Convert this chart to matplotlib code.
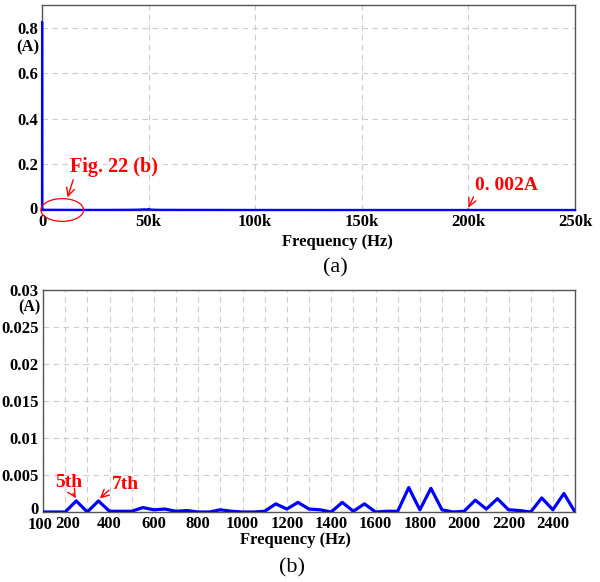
import matplotlib
matplotlib.use('Agg')
import matplotlib.pyplot as plt
import matplotlib.transforms as mtransforms
from matplotlib.patches import Ellipse
from matplotlib.ticker import MultipleLocator

plt.rcParams['font.family'] = ['Liberation Serif', 'DejaVu Serif']

# (a) 全频段电流频谱
freq_a = [0, 50, 100, 5000, 10000, 20000, 30000, 40000, 45000, 48000, 49000,
          50000, 51000, 52000, 55000, 100000, 150000, 199500, 200000, 200500, 250000]
amp_a = [0, 0.826, 0.001, 0.001, 0.0008, 0.0006, 0.0006, 0.001, 0.0015, 0.003, 0.002,
         0.004, 0.002, 0.0015, 0.0008, 0.0003, 0.0002, 0.0002, 0.002, 0.0002, 0.0002]
xticks_a = [0, 50000, 100000, 150000, 200000, 250000]
xlabels_a = ['0', '50k', '100k', '150k', '200k', '250k']
yticks_a = [0, 0.2, 0.4, 0.6, 0.8]
ylabels_a = ['0', '0.2', '0.4', '0.6', '0.8']

# (b) 低频段谐波
freq_b = list(range(100, 2550, 50))
amp_b = [0, 0, 0, 0.0015, 0, 0.0015, 0.0001, 0.0001, 0.0001, 0.0006,
         0.0003, 0.0004, 0.0001, 0.0002, 0, 0, 0.0003, 0.0001, 0, 0,
         0.0001, 0.0011, 0.0004, 0.0013, 0.0004, 0.0003, 0.0, 0.0013, 0.0001, 0.0011,
         0, 0.0001, 0.0001, 0.0033, 0.0003, 0.0032, 0.0003, 0, 0.0001, 0.0016,
         0.0004, 0.0018, 0.0003, 0.0002, 0, 0.0019, 0.0003, 0.0025, 0]
xticks_b = [100] + list(range(200, 2500, 200))
yticks_b = [0, 0.005, 0.01, 0.015, 0.02, 0.025, 0.03]
ylabels_b = ['0', '0.005', '0.01', '0.015', '0.02', '0.025', '0.03']

W, H = 600, 582
fig = plt.figure(figsize=(6.0, 5.82), dpi=100)


def fx(px):
    return px / W


def fy(py):
    return 1 - py / H


def nudge(lab, dx, dy):
    # 按像素移动刻度标签
    lab.set_transform(lab.get_transform() +
                      mtransforms.ScaledTranslation(dx / 100, dy / 100, fig.dpi_scale_trans))


def style(ax):
    for s in ax.spines.values():
        s.set_color('#555555')
        s.set_linewidth(1.0)
    ax.tick_params(length=0, labelsize=12, pad=3)
    for lab in ax.get_xticklabels() + ax.get_yticklabels():
        lab.set_fontweight('bold')
    ax.grid(True, which='both', color='#cccccc', linestyle=(0, (5, 4)), linewidth=0.8)
    ax.set_axisbelow(True)


# ---- (a)
ax1 = fig.add_axes([fx(42), fy(210), fx(575 - 42), fy(5) - fy(210)])
ax1.plot(freq_a, amp_a, color='#0000ff', lw=1.6, clip_on=False, zorder=3)
ax1.set_xlim(0, 250000)
ax1.set_ylim(0, 0.9)
ax1.set_xticks(xticks_a)
ax1.set_xticklabels(xlabels_a)
ax1.set_yticks(yticks_a)
ax1.set_yticklabels(ylabels_a)
style(ax1)
nudge(ax1.get_yticklabels()[0], 0, 2)
ax1.text(-0.005, 0.795, '(A)', transform=ax1.transAxes, ha='right', va='center',
         fontsize=12, fontweight='bold')
ax1.add_patch(Ellipse((9500, 0.0), 20000, 0.1, fill=False, edgecolor='#ff0000',
                      lw=0.9, clip_on=False, zorder=4))
ax1.annotate('Fig. 22 (b)', xy=(12000, 0.055), xytext=(13000, 0.145),
             fontsize=14.5, fontweight='bold', color='#ff0000', ha='left', va='bottom',
             arrowprops=dict(arrowstyle='->', color='#ff0000', lw=1.0, shrinkA=0, shrinkB=0,
                             relpos=(0.05, 0.0)))
ax1.annotate('0. 002A', xy=(200000, 0.01), xytext=(203000, 0.07),
             fontsize=14, fontweight='bold', color='#ff0000', ha='left', va='bottom',
             arrowprops=dict(arrowstyle='->', color='#ff0000', lw=1.0, shrinkA=0, shrinkB=0,
                             relpos=(0.0, 0.0)))
fig.text(fx(337), fy(242), 'Frequency (Hz)', ha='center', va='center',
         fontsize=12, fontweight='bold')
fig.text(fx(335), fy(268), '(a)', ha='center', va='center', fontsize=16)

# ---- (b)
ax2 = fig.add_axes([fx(43), fy(512), fx(575 - 43), fy(290) - fy(512)])
ax2.plot(freq_b, amp_b, color='#0000ff', lw=2.3, zorder=3)
ax2.set_xlim(100, 2500)
ax2.set_ylim(0, 0.03)
ax2.set_xticks(xticks_b)
ax2.set_xticklabels([str(t) for t in xticks_b])
ax2.xaxis.set_minor_locator(MultipleLocator(100))
ax2.set_yticks(yticks_b)
ax2.set_yticklabels(ylabels_b)
style(ax2)
ax2.tick_params(which='minor', length=0)
# 100 和 200 靠得太近，稍微错开
xl = ax2.get_xticklabels()
nudge(xl[0], -2.5, -1)
nudge(xl[1], 2.5, 0)
nudge(ax2.get_yticklabels()[0], 0, 4)
ax2.text(-0.005, 0.922, '(A)', transform=ax2.transAxes, ha='right', va='center',
         fontsize=11.5, fontweight='bold')
ax2.annotate('5th', xy=(252, 0.0017), xytext=(154, 0.0029),
             fontsize=14, fontweight='bold', color='#ff0000', ha='left', va='bottom',
             arrowprops=dict(arrowstyle='->', color='#ff0000', lw=1.0, shrinkA=0, shrinkB=1,
                             relpos=(0.6, 0.0)))
ax2.annotate('7th', xy=(352, 0.0017), xytext=(410, 0.0026),
             fontsize=14, fontweight='bold', color='#ff0000', ha='left', va='bottom',
             arrowprops=dict(arrowstyle='->', color='#ff0000', lw=1.0, shrinkA=0, shrinkB=1,
                             relpos=(0.0, 0.3)))
fig.text(fx(295), fy(540), 'Frequency (Hz)', ha='center', va='center',
         fontsize=12, fontweight='bold')
fig.text(fx(292), fy(568), '(b)', ha='center', va='center', fontsize=16)

fig.savefig('out.png', dpi=100)
